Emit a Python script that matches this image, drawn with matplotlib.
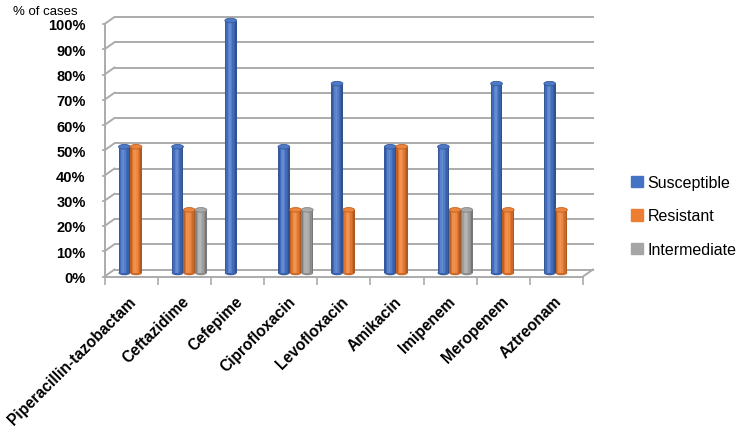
import numpy as np
import matplotlib.pyplot as plt
from matplotlib.patches import Ellipse, Patch
from matplotlib.colors import to_rgb

drugs = ['Piperacillin-tazobactam', 'Ceftazidime', 'Cefepime', 'Ciprofloxacin',
         'Levofloxacin', 'Amikacin', 'Imipenem', 'Meropenem', 'Aztreonam']
susceptible = [50, 50, 100, 50, 75, 50, 50, 75, 75]
resistant = [50, 25, 0, 25, 25, 50, 25, 25, 25]
intermediate = [0, 25, 0, 25, 0, 0, 25, 0, 0]
series_names = ['Susceptible', 'Resistant', 'Intermediate']
series_colors = ['#4472C4', '#ED7D31', '#A5A5A5']
yticks = list(range(0, 101, 10))

plt.rcParams['font.family'] = ['Liberation Sans', 'DejaVu Sans']
GRID = '#ababab'


def shade(color, f):
    c = np.array(to_rgb(color))
    if f >= 1:
        return tuple(c + (1 - c) * (f - 1))
    return tuple(c * f)


fig = plt.figure(figsize=(7.5, 4.27), dpi=100)
# axes box = front plane of the pseudo-3D chart (pixel measurements)
left, right, top, bottom = 104.5, 583, 25, 277.5
ax = fig.add_axes([left / 750, 1 - bottom / 427, (right - left) / 750, (bottom - top) / 427])
n = len(drugs)
ax.set_xlim(0, n)
ax.set_ylim(0, 100)

px_x = (right - left) / n          # pixels per category
px_y = (bottom - top) / 100        # pixels per percent
back_dx, back_dy = 10 / px_x, 7 / px_y
mid_dx, mid_dy = back_dx / 2, back_dy / 2

# back wall gridlines and left wall diagonals
for t in yticks:
    ax.plot([back_dx, n + back_dx], [t + back_dy, t + back_dy], color=GRID, lw=1.4, clip_on=False, zorder=1)
    ax.plot([0, back_dx], [t, t + back_dy], color=GRID, lw=1.4, clip_on=False, zorder=1)
# floor right edge
ax.plot([n, n + back_dx], [0, back_dy], color=GRID, lw=1.4, clip_on=False, zorder=1)

# cylinders
width = 0.22
profile = [0.78, 0.95, 1.12, 1.18, 1.08, 0.95, 0.85, 0.72]
x = np.arange(n) + 0.5
for j, (vals, col) in enumerate(zip([susceptible, resistant, intermediate], series_colors)):
    vals = np.array(vals, dtype=float)
    keep = vals > 0
    cx = x[keep] + (j - 1) * width + mid_dx
    h = vals[keep]
    sw = width / len(profile)
    for k, f in enumerate(profile):
        ax.bar(cx - width / 2 + (k + 0.5) * sw, h, sw, bottom=mid_dy, color=shade(col, f),
               lw=0, clip_on=False, zorder=3)
    for xc, hv in zip(cx, h):
        ax.add_patch(Ellipse((xc, mid_dy), width, 1.8, color=shade(col, 0.85), lw=0, clip_on=False, zorder=2.9))
        ax.add_patch(Ellipse((xc, hv + mid_dy), width, 1.8, color=shade(col, 1.05),
                             ec=shade(col, 0.8), lw=0.6, clip_on=False, zorder=4))

for s in ['top', 'right']:
    ax.spines[s].set_visible(False)
for s in ['left', 'bottom']:
    ax.spines[s].set_color(GRID)
    ax.spines[s].set_linewidth(1.4)

ax.set_yticks(yticks)
ax.set_yticklabels([f'{t}%' for t in yticks], fontsize=10.5, fontweight='bold')
ax.tick_params(axis='y', length=2.5, color=GRID, width=1.2, pad=11)

ax.set_xticks(np.arange(n + 1), minor=True)
ax.set_xticks(x - 0.05)
ax.set_xticklabels(drugs, rotation=45, ha='right', rotation_mode='anchor', fontsize=11.2, fontweight='bold')
ax.tick_params(axis='x', which='major', length=0, pad=12)
ax.tick_params(axis='x', which='minor', length=6, color=GRID, width=1.2)

fig.text(13 / 750, 1 - 12 / 427, '% of cases', fontsize=9.5, va='center', ha='left')

handles = [Patch(color=c) for c in series_colors]
fig.legend(handles, series_names, loc='center left', bbox_to_anchor=(617 / 750, 1 - 217 / 427),
           frameon=False, fontsize=11.5, handlelength=0.7, handleheight=0.7, handletextpad=0.3,
           labelspacing=1.15)

fig.savefig('out.png', dpi=100)
